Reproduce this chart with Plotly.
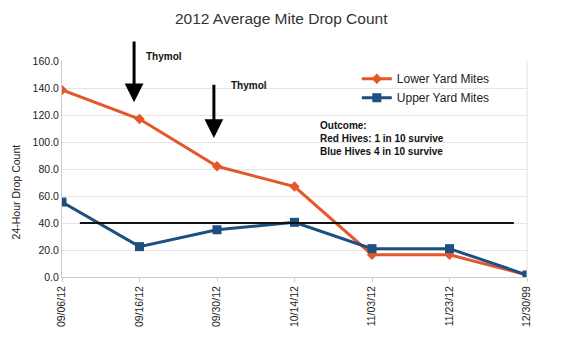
import plotly.graph_objects as go

dates = ["09/06/12", "09/16/12", "09/30/12", "10/14/12", "11/03/12", "11/23/12", "12/30/99"]
lower_yard = [138.5, 117, 82, 67, 16.5, 16.5, 1.5]
upper_yard = [55.5, 22.5, 35, 40.5, 21, 21, 1.5]
threshold = 40
y_ticks = [0, 20, 40, 60, 80, 100, 120, 140, 160]

ORANGE = "#e4572b"
BLUE = "#1d4f80"
FONT = "Liberation Sans, Arial, sans-serif"

fig = go.Figure()
fig.add_trace(go.Scatter(
    x=list(range(len(dates))), y=lower_yard, name="Lower Yard Mites",
    mode="lines+markers", line=dict(color=ORANGE, width=3),
    marker=dict(symbol="diamond", size=8, color=ORANGE)))
fig.add_trace(go.Scatter(
    x=list(range(len(dates))), y=upper_yard, name="Upper Yard Mites",
    mode="lines+markers", line=dict(color=BLUE, width=3),
    marker=dict(symbol="square", size=9, color=BLUE)))

# threshold line
fig.add_shape(type="line", xref="x", yref="y", x0=0.23, x1=5.83,
              y0=threshold, y1=threshold, line=dict(color="#111111", width=2))

# arrows
for x_cat, y_tip, y_tail in [(0.93, 129.5, 175.5), (1.96, 103, 143.5)]:
    fig.add_annotation(x=x_cat, y=y_tip, ax=x_cat, ay=y_tail, xref="x", yref="y",
                       axref="x", ayref="y", text="", showarrow=True,
                       arrowhead=2, arrowsize=1.25, arrowwidth=3, arrowcolor="#000000")

fig.add_annotation(x=0.176, y=1.02, xref="paper", yref="paper", text="<b>Thymol</b>",
                   showarrow=False, xanchor="left", yanchor="middle",
                   font=dict(size=10, color="#111", family=FONT))
fig.add_annotation(x=0.36, y=0.888, xref="paper", yref="paper", text="<b>Thymol</b>",
                   showarrow=False, xanchor="left", yanchor="middle",
                   font=dict(size=10, color="#111", family=FONT))
fig.add_annotation(x=0.55, y=0.64, xref="paper", yref="paper",
                   text="<b>Outcome:<br>Red Hives: 1 in 10 survive<br>Blue Hives 4 in 10 survive</b>",
                   showarrow=False, xanchor="left", yanchor="middle", align="left",
                   font=dict(size=10, color="#111", family=FONT))
# y axis title (placed lower than plot centre, as in the original)
fig.add_annotation(x=-0.1, y=0.394, xref="paper", yref="paper", text="24-Hour Drop Count",
                   textangle=-90, showarrow=False, xanchor="center", yanchor="middle",
                   font=dict(size=10.5, color="#222", family=FONT))

# the page body adds an 8px offset, so the figure is sized to the remaining window
fig.update_layout(
    width=553, height=348,
    margin=dict(l=54, r=34, t=53, b=79, autoexpand=False),
    paper_bgcolor="white", plot_bgcolor="white",
    font=dict(family=FONT, color="#222"),
    title=dict(text="2012 Average Mite Drop Count", x=0.494, xanchor="center",
               y=0.971, yanchor="middle", font=dict(size=15.5, color="#333", family=FONT)),
    showlegend=True,
    legend=dict(x=0.634, y=0.985, xanchor="left", yanchor="top", bgcolor="rgba(0,0,0,0)",
                font=dict(size=12, color="#222"), itemwidth=30, tracegroupgap=0),
    xaxis=dict(tickmode="array", tickvals=list(range(len(dates))), ticktext=dates,
               range=[0, len(dates) - 1], tickangle=-90, showgrid=False, automargin=False,
               showline=True, linecolor="#cccccc", mirror=False,
               ticks="outside", ticklen=4, tickcolor="#cccccc",
               tickfont=dict(size=10.5, color="#222"), zeroline=False),
    yaxis=dict(tickvals=y_ticks, ticktext=[f"{v:.1f}" for v in y_ticks],
               range=[0, 160], showgrid=True, gridcolor="#e6e6e6", automargin=False,
               showline=True, linecolor="#cccccc", zeroline=False,
               tickfont=dict(size=10.5, color="#222")),
)
fig.add_shape(type="line", xref="paper", yref="paper", x0=1, x1=1, y0=0, y1=1,
              line=dict(color="#e0e0e0", width=1))

fig.write_html("out.html")
